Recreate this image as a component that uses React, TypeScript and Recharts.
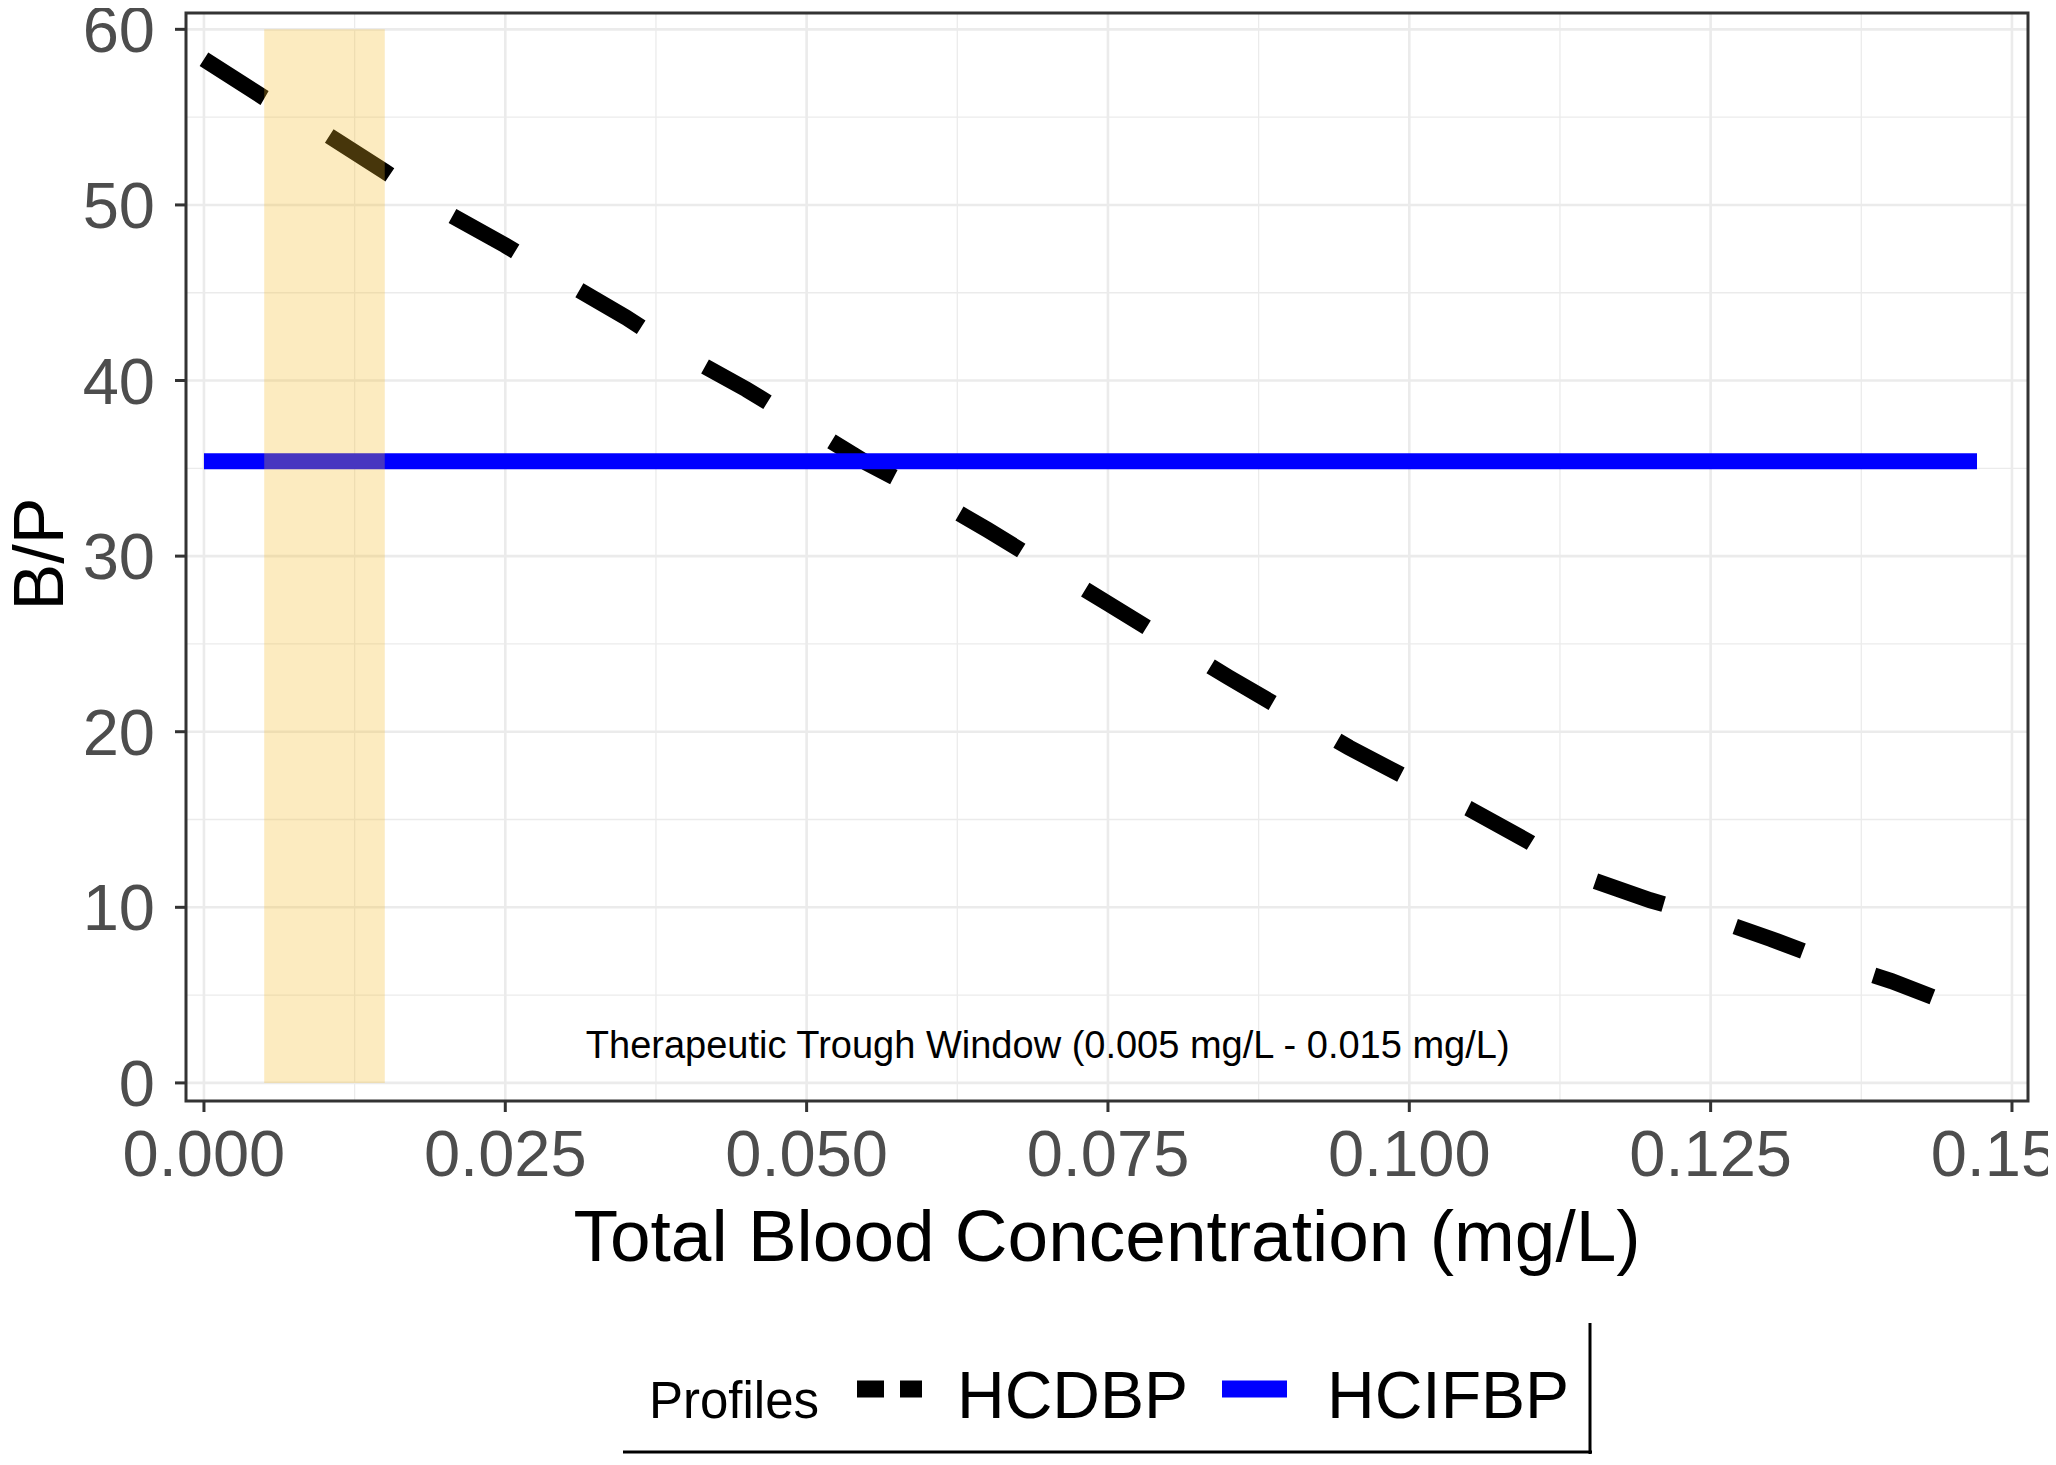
import {
  LineChart,
  Line,
  XAxis,
  YAxis,
  CartesianGrid,
  ReferenceArea,
  ReferenceDot,
  Label,
} from 'recharts'

// HCDBP profile: B/P vs total blood concentration
const hcdbpConc = [
  0, 0.005, 0.01, 0.015, 0.02, 0.025, 0.03, 0.035, 0.04, 0.045, 0.05, 0.055, 0.06, 0.065, 0.07,
  0.075, 0.08, 0.085, 0.09, 0.095, 0.1, 0.105, 0.11, 0.115, 0.12, 0.125, 0.13, 0.135, 0.14, 0.1434,
]
const hcdbpBP = [
  58.3, 56.1, 54.1, 51.9, 49.6, 47.7, 45.6, 43.6, 41.4, 39.5, 37.4, 35.3, 33.5, 31.5, 29.4,
  27.3, 25.2, 23.1, 21.1, 19.1, 17.3, 15.6, 13.7, 11.6, 10.4, 9.4, 8.2, 6.9, 5.8, 4.9,
]

// HCIFBP profile: constant B/P
const hcifbpConc = [0, 0.1471]
const hcifbpBP = [35.4, 35.4]

// therapeutic trough window
const windowLow = 0.005
const windowHigh = 0.015
const windowLabel = 'Therapeutic Trough Window (0.005 mg/L - 0.015 mg/L)'

const xTicks = [0, 0.025, 0.05, 0.075, 0.1, 0.125, 0.15]
const xMinor = [0.0125, 0.0375, 0.0625, 0.0875, 0.1125, 0.1375]
const yTicks = [0, 10, 20, 30, 40, 50, 60]
const yMinor = [5, 15, 25, 35, 45, 55]

const xDomain: [number, number] = [-0.00149, 0.15133]
const yDomain: [number, number] = [-1.03, 60.93]

const hcdbpData = hcdbpConc.map((x, i) => ({ x, bp: hcdbpBP[i] }))
const hcifbpData = hcifbpConc.map((x, i) => ({ x, bp: hcifbpBP[i] }))

const FONT = '"Liberation Sans", Arial, Helvetica, sans-serif'
const W = 2040
const H = 1270

function Legend() {
  return (
    <svg
      width={970}
      height={131}
      style={{ position: 'absolute', left: 615, top: 1315, fontFamily: FONT }}
    >
      <line x1={967} y1={0} x2={967} y2={131} stroke="#000" strokeWidth={3} />
      <line x1={0} y1={129} x2={969} y2={129} stroke="#000" strokeWidth={3} />
      <text x={26} y={95} fontSize={51} fill="#000">
        Profiles
      </text>
      <line x1={234} y1={66} x2={299} y2={66} stroke="#000" strokeWidth={17} strokeDasharray="27 16" />
      <text x={334} y={95} fontSize={66} fill="#000">
        HCDBP
      </text>
      <line x1={599} y1={66} x2={664} y2={66} stroke="#0000ff" strokeWidth={17} />
      <text x={704} y={95} fontSize={66} fill="#000">
        HCIFBP
      </text>
    </svg>
  )
}

// translucent window band, drawn in a second chart on top so it tints the lines below
function WindowOverlay() {
  return (
    <div style={{ position: 'absolute', left: 0, top: 0, pointerEvents: 'none' }}>
      <LineChart width={W} height={H} margin={{ top: 5, right: 20, bottom: 177, left: 178 }}>
        <XAxis dataKey="x" type="number" domain={xDomain} allowDataOverflow hide />
        <YAxis type="number" domain={yDomain} allowDataOverflow hide />
        <Line
          data={[]}
          dataKey="bp"
          stroke="none"
          dot={false}
          activeDot={false}
          isAnimationActive={false}
        />
        <ReferenceArea
          x1={windowLow}
          x2={windowHigh}
          y1={0}
          y2={60}
          fill="rgb(245,186,38)"
          fillOpacity={0.29}
          stroke="none"
        />
      </LineChart>
    </div>
  )
}

export default function App() {
  return (
    <div style={{ position: 'relative', width: W, height: 1449, fontFamily: FONT }}>
      <LineChart width={W} height={H} margin={{ top: 5, right: 20, bottom: 0, left: 0 }}>
        <CartesianGrid
          stroke="#EBEBEB"
          strokeWidth={1.3}
          verticalValues={xMinor}
          horizontalValues={yMinor}
        />
        <CartesianGrid
          stroke="#EBEBEB"
          strokeWidth={2.6}
          verticalValues={xTicks}
          horizontalValues={yTicks}
        />
        <XAxis
          dataKey="x"
          type="number"
          domain={xDomain}
          allowDataOverflow
          ticks={xTicks}
          interval={0}
          height={177}
          tickFormatter={(v: number) => v.toFixed(3)}
          tick={{ fill: '#4D4D4D', fontSize: 65, fontFamily: FONT }}
          tickSize={11}
          tickMargin={18}
          tickLine={{ stroke: '#333333', strokeWidth: 3 }}
          axisLine={false}
        >
          <Label
            content={(props: any) => {
              const vb = props.viewBox || { x: 178, y: 1093, width: 1842 }
              return (
                <text
                  x={vb.x + vb.width / 2}
                  y={vb.y + 160}
                  textAnchor="middle"
                  fontSize={73}
                  fill="#000"
                  fontFamily={FONT}
                >
                  Total Blood Concentration (mg/L)
                </text>
              )
            }}
          />
        </XAxis>
        <YAxis
          type="number"
          domain={yDomain}
          allowDataOverflow
          ticks={yTicks}
          interval={0}
          width={178}
          tick={{ fill: '#4D4D4D', fontSize: 65, fontFamily: FONT }}
          tickSize={11}
          tickMargin={20}
          tickLine={{ stroke: '#333333', strokeWidth: 3 }}
          axisLine={false}
        >
          <Label
            content={(props: any) => {
              const vb = props.viewBox || { x: 0, y: 5, height: 1088 }
              const cx = vb.x + 55
              const cy = vb.y + vb.height / 2 - 3
              return (
                <text
                  x={cx}
                  y={cy}
                  transform={`rotate(-90, ${cx}, ${cy})`}
                  textAnchor="middle"
                  fontSize={70}
                  fill="#000"
                  fontFamily={FONT}
                >
                  B/P
                </text>
              )
            }}
          />
        </YAxis>
        <Line
          data={hcdbpData}
          dataKey="bp"
          name="HCDBP"
          type="linear"
          stroke="#000000"
          strokeWidth={16}
          strokeDasharray="72 75"
          strokeLinecap="butt"
          dot={false}
          activeDot={false}
          isAnimationActive={false}
        />
        <Line
          data={hcifbpData}
          dataKey="bp"
          name="HCIFBP"
          type="linear"
          stroke="#0000FF"
          strokeWidth={16}
          strokeLinecap="butt"
          dot={false}
          activeDot={false}
          isAnimationActive={false}
        />
        <ReferenceDot
          x={0.07}
          y={2.2}
          r={1}
          fill="none"
          stroke="none"
          label={{ value: windowLabel, position: 'center', fontSize: 38, fill: '#000', fontFamily: FONT }}
        />
        <ReferenceArea
          x1={xDomain[0]}
          x2={xDomain[1]}
          y1={yDomain[0]}
          y2={yDomain[1]}
          fill="none"
          stroke="#333333"
          strokeWidth={3}
        />
      </LineChart>
      <WindowOverlay />
      <Legend />
    </div>
  )
}
